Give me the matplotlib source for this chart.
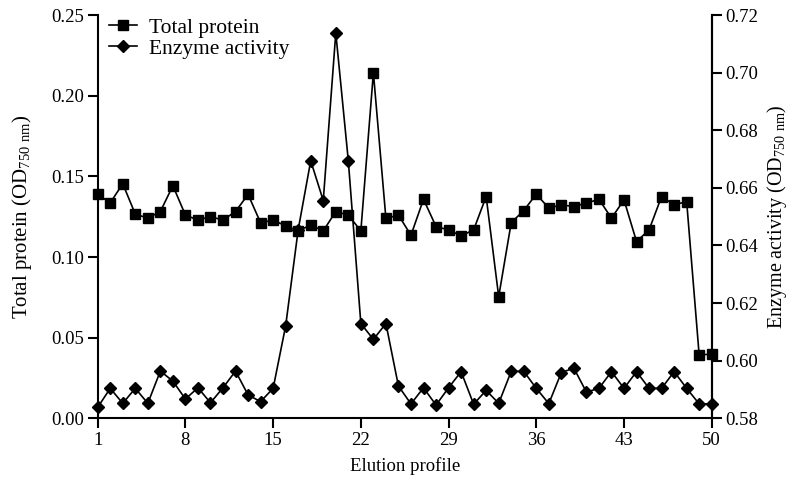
import numpy as np
import matplotlib
matplotlib.use("Agg")
import matplotlib.pyplot as plt

plt.rcParams['font.family'] = ['Liberation Serif', 'DejaVu Serif']
plt.rcParams['mathtext.fontset'] = 'custom'
plt.rcParams['mathtext.rm'] = 'Liberation Serif'

# elution fractions
fraction = list(range(1, 51))

# total protein (OD750 nm), left axis
total_protein = [0.1388, 0.1336, 0.1454, 0.1266, 0.1241, 0.1282, 0.1442, 0.1260, 0.1229, 0.1250,
                 0.1229, 0.1282, 0.1388, 0.1212, 0.1229, 0.1193, 0.1162, 0.1198, 0.1162, 0.1282,
                 0.1260, 0.1162, 0.2143, 0.1239, 0.1260, 0.1135, 0.1358, 0.1189, 0.1168, 0.1131,
                 0.1168, 0.1375, 0.0754, 0.1213, 0.1288, 0.1390, 0.1303, 0.1323, 0.1313, 0.1334,
                 0.1358, 0.1241, 0.1354, 0.1096, 0.1168, 0.1375, 0.1323, 0.1344, 0.0390, 0.0400]

# enzyme activity (OD750 nm), right axis
enzyme_activity = [0.5838, 0.5904, 0.5852, 0.5904, 0.5852, 0.5964, 0.5929, 0.5867, 0.5906, 0.5854,
                   0.5906, 0.5964, 0.5881, 0.5858, 0.5904, 0.6121, 0.6455, 0.6694, 0.6556, 0.7138,
                   0.6694, 0.6129, 0.6074, 0.6129, 0.5912, 0.5850, 0.5906, 0.5846, 0.5906, 0.5962,
                   0.5849, 0.5897, 0.5852, 0.5963, 0.5963, 0.5904, 0.5851, 0.5959, 0.5974, 0.5891,
                   0.5904, 0.5962, 0.5904, 0.5962, 0.5904, 0.5904, 0.5962, 0.5904, 0.5850, 0.5850]

xticks = [1, 8, 15, 22, 29, 36, 43, 50]
left_ticks = [0.00, 0.05, 0.10, 0.15, 0.20, 0.25]
right_ticks = [0.58, 0.60, 0.62, 0.64, 0.66, 0.68, 0.70, 0.72]

fig = plt.figure(figsize=(7.93, 4.86), dpi=100)
ax = fig.add_axes([0.1232, 0.1393, 0.8975 - 0.1232, 0.969 - 0.1393])
ax2 = ax.twinx()

line1, = ax.plot(fraction, total_protein, color='black', lw=1.2, marker='s', ms=6.5,
                 clip_on=False, zorder=3, label='Total protein')
line2, = ax2.plot(fraction, enzyme_activity, color='black', lw=1.2, marker='D', ms=6.3,
                  clip_on=False, zorder=3, label='Enzyme activity')

ax.set_xlim(1, 50)
ax.set_ylim(0, 0.25)
ax2.set_ylim(0.58, 0.72)
ax.set_xticks(xticks)
ax.set_yticks(left_ticks)
ax.set_yticklabels(['%.2f' % v for v in left_ticks])
ax2.set_yticks(right_ticks)
ax2.set_yticklabels(['%.2f' % v for v in right_ticks])

for a in (ax, ax2):
    a.spines['top'].set_visible(False)
    for s in a.spines.values():
        s.set_linewidth(1.5)
    a.tick_params(direction='out', length=7, width=1.5, labelsize=13.5, pad=3)
ax2.spines['left'].set_visible(False)
ax2.spines['bottom'].set_visible(False)

ax.set_xlabel('Elution profile', fontsize=13.5, labelpad=6)
ax.set_ylabel(r'Total protein (OD$_{\mathregular{750\ nm}}$)', fontsize=15, labelpad=12)
ax2.set_ylabel(r'Enzyme activity (OD$_{\mathregular{750\ nm}}$)', fontsize=14.5, labelpad=5)

ax.legend(handles=[line1, line2], loc='upper left', frameon=False, fontsize=15.5,
          handlelength=1.3, handletextpad=0.55, borderaxespad=0.0, labelspacing=0.05,
          bbox_to_anchor=(0.005, 1.015))

fig.savefig('out.png', dpi=100)
